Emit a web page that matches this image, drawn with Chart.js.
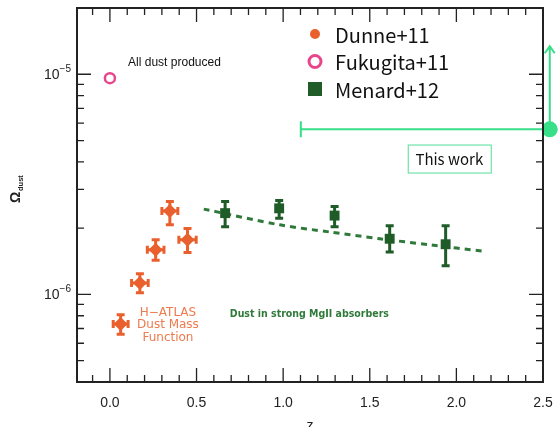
<!DOCTYPE html>
<html>
<head>
<meta charset="utf-8">
<script src="https://cdn.jsdelivr.net/npm/chart.js@4.4.1/dist/chart.umd.min.js"></script>
<style>
  html, body { margin: 0; padding: 0; background: #fff; }
  #wrap { width: 558px; height: 427px; position: relative; }
</style>
</head>
<body>
<div id="wrap"><canvas id="dust-chart"></canvas></div>
<script>
// Dunne+11 (H-ATLAS dust mass function)
const dunneZ = [0.062, 0.173, 0.264, 0.346, 0.448];
const dunneOmega = [7.34e-7, 1.127e-6, 1.595e-6, 2.39e-6, 1.77e-6];
const dunneLo = [6.59e-7, 1.018e-6, 1.43e-6, 2.07e-6, 1.55e-6];
const dunneHi = [8.09e-7, 1.24e-6, 1.77e-6, 2.64e-6, 1.99e-6];
const dunneZErr = [0.043, 0.048, 0.048, 0.046, 0.05];

// Fukugita+11
const fukugitaZ = [0.0];
const fukugitaOmega = [9.6e-6];

// Menard+12 (MgII absorbers)
const menardZ = [0.665, 0.977, 1.297, 1.615, 1.938];
const menardOmega = [2.34e-6, 2.46e-6, 2.28e-6, 1.79e-6, 1.69e-6];
const menardLo = [2.03e-6, 2.22e-6, 2.03e-6, 1.56e-6, 1.35e-6];
const menardHi = [2.64e-6, 2.67e-6, 2.51e-6, 2.05e-6, 2.05e-6];

// dashed fit through Menard points
const fitZ = [0.542, 0.981, 1.27, 1.558, 1.846, 2.158];
const fitOmega = [2.44e-6, 2.07e-6, 1.92e-6, 1.79e-6, 1.68e-6, 1.57e-6];

// This work
const thisZ = [2.539];
const thisOmega = [5.62e-6];
const thisZLow = [1.102];
const thisOmegaUp = [1.34e-5];

// axes
const xMajor = [0.0, 0.5, 1.0, 1.5, 2.0, 2.5];
const xMinor = [-0.1, 0.1, 0.2, 0.3, 0.4, 0.6, 0.7, 0.8, 0.9, 1.1, 1.2, 1.3, 1.4, 1.6, 1.7, 1.8, 1.9, 2.1, 2.2, 2.3, 2.4];
const yMajor = [1e-6, 1e-5];
const yMinor = [5e-7, 6e-7, 7e-7, 8e-7, 9e-7, 2e-6, 3e-6, 4e-6, 5e-6, 6e-6, 7e-6, 8e-6, 9e-6];

const ORANGE = '#e9602e';
const PINK = '#e8468a';
const DKGREEN = '#1f5c27';
const FITGREEN = '#2f7a3a';
const BRIGHT = '#36df88';

const pts = (xs, ys) => xs.map((x, i) => ({ x: x, y: ys[i] }));

const decorPlugin = {
  id: 'decor',
  afterDatasetsDraw(chart) {
    const ctx = chart.ctx;
    const xs = chart.scales.x, ys = chart.scales.y;
    const a = chart.chartArea;
    const X = v => xs.getPixelForValue(v);
    const Y = v => ys.getPixelForValue(v);
    ctx.save();

    // Dunne error bars (both directions, capped)
    ctx.strokeStyle = ORANGE; ctx.lineWidth = 3;
    dunneZ.forEach((z, i) => {
      const cx = X(z), cy = Y(dunneOmega[i]);
      const y1 = Y(dunneHi[i]), y2 = Y(dunneLo[i]);
      const x1 = X(z - dunneZErr[i]), x2 = X(z + dunneZErr[i]);
      ctx.beginPath();
      ctx.moveTo(cx, y1); ctx.lineTo(cx, y2);
      ctx.moveTo(cx - 4, y1); ctx.lineTo(cx + 4, y1);
      ctx.moveTo(cx - 4, y2); ctx.lineTo(cx + 4, y2);
      ctx.moveTo(x1, cy); ctx.lineTo(x2, cy);
      ctx.moveTo(x1, cy - 4); ctx.lineTo(x1, cy + 4);
      ctx.moveTo(x2, cy - 4); ctx.lineTo(x2, cy + 4);
      ctx.stroke();
    });

    // Menard error bars
    ctx.strokeStyle = DKGREEN; ctx.lineWidth = 3;
    menardZ.forEach((z, i) => {
      const cx = X(z);
      const y1 = Y(menardHi[i]), y2 = Y(menardLo[i]);
      ctx.beginPath();
      ctx.moveTo(cx, y1); ctx.lineTo(cx, y2);
      ctx.moveTo(cx - 4, y1); ctx.lineTo(cx + 4, y1);
      ctx.moveTo(cx - 4, y2); ctx.lineTo(cx + 4, y2);
      ctx.stroke();
    });

    // This work: horizontal bar + upward arrow
    ctx.strokeStyle = BRIGHT; ctx.lineWidth = 2;
    const tx = X(thisZ[0]), ty = Y(thisOmega[0]);
    const lx = X(thisZLow[0]), uy = Y(thisOmegaUp[0]);
    ctx.beginPath();
    ctx.moveTo(lx, ty); ctx.lineTo(tx, ty);
    ctx.moveTo(lx, ty - 8); ctx.lineTo(lx, ty + 8);
    ctx.moveTo(tx, ty); ctx.lineTo(tx, uy);
    ctx.moveTo(tx - 5, uy + 7); ctx.lineTo(tx, uy); ctx.lineTo(tx + 5, uy + 7);
    ctx.stroke();

    // frame
    ctx.strokeStyle = '#222'; ctx.lineWidth = 2;
    ctx.strokeRect(a.left, a.top, a.right - a.left, a.bottom - a.top);

    // ticks
    ctx.lineWidth = 1.3;
    ctx.beginPath();
    xMajor.forEach(v => { const p = X(v); ctx.moveTo(p, a.bottom); ctx.lineTo(p, a.bottom - 14); ctx.moveTo(p, a.top); ctx.lineTo(p, a.top + 14); });
    xMinor.forEach(v => { const p = X(v); ctx.moveTo(p, a.bottom); ctx.lineTo(p, a.bottom - 7); ctx.moveTo(p, a.top); ctx.lineTo(p, a.top + 7); });
    yMajor.forEach(v => { const p = Y(v); ctx.moveTo(a.left, p); ctx.lineTo(a.left + 14, p); ctx.moveTo(a.right, p); ctx.lineTo(a.right - 14, p); });
    yMinor.forEach(v => { const p = Y(v); ctx.moveTo(a.left, p); ctx.lineTo(a.left + 7, p); ctx.moveTo(a.right, p); ctx.lineTo(a.right - 7, p); });
    ctx.stroke();

    // tick labels
    ctx.fillStyle = '#222';
    ctx.font = '14px "Liberation Sans", Arial, sans-serif';
    ctx.textAlign = 'center'; ctx.textBaseline = 'middle';
    xMajor.forEach(v => ctx.fillText(v.toFixed(1), X(v), a.bottom + 21));
    yMajor.forEach(v => {
      const p = Y(v);
      const e = Math.round(Math.log10(v));
      ctx.textAlign = 'right';
      ctx.font = '10px "Liberation Sans", Arial, sans-serif';
      ctx.fillText('\u2212' + Math.abs(e), a.left - 6, p - 5);
      const ew = ctx.measureText('\u2212' + Math.abs(e)).width;
      ctx.font = '14px "Liberation Sans", Arial, sans-serif';
      ctx.fillText('10', a.left - 6 - ew, p + 1);
    });

    // axis titles
    ctx.textAlign = 'center';
    ctx.font = '14px "Liberation Sans", Arial, sans-serif';
    ctx.fillText('z', (a.left + a.right) / 2, a.bottom + 44);
    ctx.save();
    ctx.translate(20, 203);
    ctx.rotate(-Math.PI / 2);
    ctx.textAlign = 'left';
    ctx.textBaseline = 'alphabetic';
    ctx.font = 'bold 14px "Liberation Sans", Arial, sans-serif';
    ctx.fillText('\u03a9', 0, 0);
    ctx.font = 'bold 7.5px "Liberation Sans", Arial, sans-serif';
    ctx.fillText('dust', 12, 3);
    ctx.restore();

    // annotations
    ctx.textAlign = 'left';
    ctx.fillStyle = '#111';
    ctx.font = '12px "Liberation Sans", Arial, sans-serif';
    ctx.fillText('All dust produced', X(0.105), Y(1.13e-5));

    ctx.fillStyle = '#ee7a4e';
    ctx.textAlign = 'center';
    ctx.font = '12px "DejaVu Sans", sans-serif';
    ctx.fillText('H\u2212ATLAS', X(0.335), Y(8.26e-7));
    ctx.fillText('Dust Mass', X(0.335), Y(7.25e-7));
    ctx.fillText('Function', X(0.335), Y(6.37e-7));

    ctx.fillStyle = FITGREEN;
    ctx.textAlign = 'left';
    ctx.font = 'bold 10.5px "DejaVu Sans Condensed", "DejaVu Sans", sans-serif';
    ctx.fillText('Dust in strong MgII absorbers', X(0.692), Y(8.1e-7));

    // "This work" box
    ctx.font = '15px "Noto Sans CJK JP", "Noto Sans", sans-serif';
    ctx.fillStyle = '#111';
    ctx.textAlign = 'center';
    const bx = X(1.959), by = Y(4.12e-6);
    ctx.fillText('This work', bx, by);
    ctx.strokeStyle = '#6fe3a8'; ctx.lineWidth = 1.2;
    ctx.strokeRect(bx - 41, by - 14, 83, 28);

    // legend from datasets
    const items = [
      { ds: 0, draw: (x, y) => { ctx.fillStyle = ORANGE; ctx.beginPath(); ctx.arc(x, y, 5, 0, Math.PI * 2); ctx.fill(); } },
      { ds: 1, draw: (x, y) => { ctx.strokeStyle = PINK; ctx.lineWidth = 3; ctx.beginPath(); ctx.arc(x, y, 6, 0, Math.PI * 2); ctx.stroke(); } },
      { ds: 2, draw: (x, y) => { ctx.fillStyle = DKGREEN; ctx.fillRect(x - 7, y - 7, 14, 14); } }
    ];
    ctx.textAlign = 'left';
    ctx.font = '20px "Noto Sans CJK JP", "Noto Sans", sans-serif';
    items.forEach((it, i) => {
      const y = 34 + i * 27.5;
      it.draw(315, y);
      ctx.fillStyle = '#111';
      ctx.fillText(chart.data.datasets[it.ds].label, 335, y + 1);
    });

    ctx.restore();
  }
};

new Chart(document.getElementById('dust-chart'), {
  type: 'scatter',
  data: {
    datasets: [
      {
        label: 'Dunne+11', data: pts(dunneZ, dunneOmega),
        pointStyle: 'rectRot', pointRadius: 7, pointHoverRadius: 7,
        backgroundColor: ORANGE, borderColor: ORANGE, borderWidth: 0, order: 1,
      },
      {
        label: 'Fukugita+11', data: pts(fukugitaZ, fukugitaOmega),
        pointStyle: 'circle', pointRadius: 5, backgroundColor: 'rgba(0,0,0,0)',
        borderColor: PINK, borderWidth: 2.5, order: 1,
      },
      {
        label: 'Menard+12', data: pts(menardZ, menardOmega),
        pointStyle: 'rect', pointRadius: 7, backgroundColor: DKGREEN,
        borderColor: DKGREEN, borderWidth: 0, order: 1,
      },
      {
        type: 'line', label: 'fit', data: pts(fitZ, fitOmega),
        borderColor: FITGREEN, borderWidth: 3, borderDash: [6, 5],
        pointRadius: 0, tension: 0.3, fill: false, order: 2,
      },
      {
        label: 'This work', data: pts(thisZ, thisOmega),
        pointStyle: 'circle', pointRadius: 8, backgroundColor: BRIGHT,
        borderColor: BRIGHT, borderWidth: 0, clip: false, order: 0,
      }
    ]
  },
  options: {
    responsive: true, maintainAspectRatio: false, animation: false,
    layout: { padding: { left: 77, right: 15, top: 8, bottom: 45 } },
    scales: {
      x: { type: 'linear', min: -0.19, max: 2.5, display: false },
      y: { type: 'logarithmic', min: 4e-7, max: 2e-5, display: false }
    },
    plugins: { legend: { display: false }, tooltip: { enabled: false } }
  },
  plugins: [decorPlugin]
});
</script>
</body>
</html>
